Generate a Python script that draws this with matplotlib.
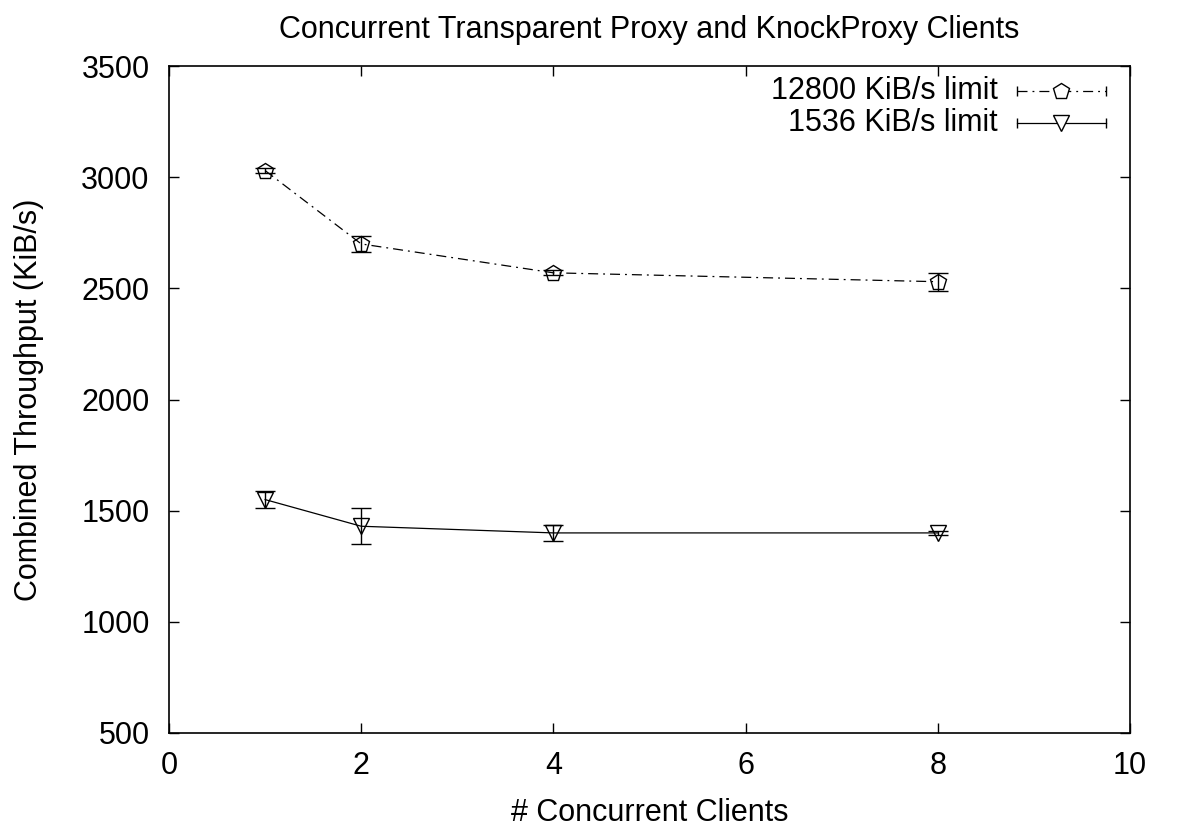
"""
Concurrent Transparent Proxy and KnockProxy Clients throughput plot.
"""

import numpy as np
import matplotlib
matplotlib.use("Agg")
import matplotlib.pyplot as plt

# =====================================================
# DATA
# =====================================================

clients = [1, 2, 4, 8]

fast_mean = [3030, 2700, 2570, 2530]
fast_err = [12, 35, 12, 40]

slow_mean = [1550, 1430, 1400, 1400]
slow_err = [40, 80, 35, 8]

fast_label = "12800 KiB/s limit"
slow_label = "1536 KiB/s limit"

x_ticks = [0, 2, 4, 6, 8, 10]
y_ticks = [500, 1000, 1500, 2000, 2500, 3000, 3500]

# =====================================================
# FIGURE
# =====================================================

plt.rcParams["font.family"] = ["Liberation Sans", "DejaVu Sans"]

fig = plt.figure(figsize=(11.77, 8.26), dpi=100)

ax = fig.add_axes([0.1436, 0.1126, 0.8165, 0.8074])

dashdot = (0, (8, 4, 1.5, 4))

ax.errorbar(
    clients,
    fast_mean,
    yerr=fast_err,
    color="black",
    linestyle=dashdot,
    linewidth=0.9,
    marker="p",
    markersize=12,
    markerfacecolor="none",
    markeredgewidth=1.0,
    elinewidth=1.0,
    capsize=7,
    capthick=1.0
)

ax.errorbar(
    clients,
    slow_mean,
    yerr=slow_err,
    color="black",
    linestyle="-",
    linewidth=0.9,
    marker="v",
    markersize=12,
    markerfacecolor="none",
    markeredgewidth=1.0,
    elinewidth=1.0,
    capsize=7,
    capthick=1.0
)

ax.set_xlim(0, 10)
ax.set_ylim(500, 3500)

ax.set_xticks(x_ticks)
ax.set_yticks(y_ticks)

ax.tick_params(
    direction="in",
    top=True,
    right=True,
    length=7,
    width=1,
    labelsize=22
)

ax.tick_params(axis="y", pad=14)
ax.tick_params(axis="x", pad=13)

for spine in ax.spines.values():
    spine.set_linewidth(1.2)

ax.set_xlabel("# Concurrent Clients", fontsize=22, labelpad=12)
ax.set_ylabel("Combined Throughput (KiB/s)", fontsize=22, labelpad=27)
ax.set_title(
    "Concurrent Transparent Proxy and KnockProxy Clients",
    fontsize=22,
    pad=20
)

# =====================================================
# LEGEND (gnuplot style)
# =====================================================

legend_rows = [
    (fast_label, dashdot, "p", 0.963),
    (slow_label, "-", "v", 0.915),
]

for label, ls, mk, yy in legend_rows:

    ax.text(
        0.862,
        yy,
        label,
        transform=ax.transAxes,
        ha="right",
        va="center",
        fontsize=22
    )

    ax.plot(
        [0.882, 0.975],
        [yy, yy],
        transform=ax.transAxes,
        color="black",
        linestyle=ls,
        linewidth=0.9
    )

    ax.plot(
        [0.882, 0.975],
        [yy, yy],
        transform=ax.transAxes,
        color="black",
        linestyle="none",
        marker="|",
        markersize=7,
        markeredgewidth=1.0
    )

    ax.plot(
        [0.9285],
        [yy],
        transform=ax.transAxes,
        color="black",
        marker=mk,
        markersize=12,
        markerfacecolor="white",
        markeredgewidth=1.0
    )

fig.savefig("out.png", dpi=100)
